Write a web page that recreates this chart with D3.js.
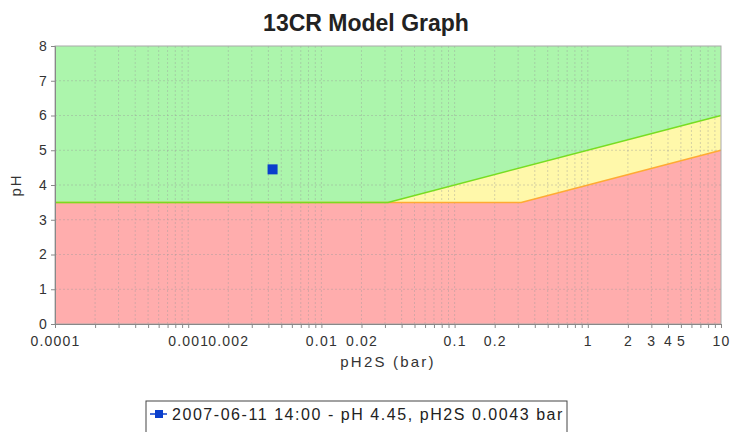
<!DOCTYPE html>
<html>
<head>
<meta charset="utf-8">
<script src="https://cdn.jsdelivr.net/npm/d3@7"></script>
<style>
  body { margin: 0; background: #fff; }
  text { font-family: "Liberation Sans", Arial, sans-serif; }
</style>
</head>
<body>
<div id="graph"></div>
<script>
// boundary lines (pH2S in bar, pH)
var upperX = [0.0001, 0.0316, 10],
    upperPH = [3.5, 3.5, 6];
var lowerX = [0.0001, 0.316, 10],
    lowerPH = [3.5, 3.5, 5];

// measured point
var pointX = [0.0043],
    pointPH = [4.45],
    pointLabel = ["2007-06-11 14:00 - pH 4.45, pH2S 0.0043 bar"];

var xTickLabels = [0.0001, 0.001, 0.002, 0.01, 0.02, 0.1, 0.2, 1, 2, 3, 4, 5, 10];
var yTicks = [0, 1, 2, 3, 4, 5, 6, 7, 8];

var svg = d3.select("#graph").append("svg")
    .attr("width", 732)
    .attr("height", 432),
    margin = {top: 46, right: 11, bottom: 108, left: 55},
    width = 732 - margin.left - margin.right,
    height = 432 - margin.top - margin.bottom,
    g = svg.append("g").attr("transform", "translate(" + margin.left + "," + margin.top + ")");

var x = d3.scaleLog().domain([0.0001, 10]).range([0, width]),
    y = d3.scaleLinear().domain([0, 8]).range([height, 0]);

var upper = upperX.map(function(d, i) { return {x: d, ph: upperPH[i]}; }),
    lower = lowerX.map(function(d, i) { return {x: d, ph: lowerPH[i]}; });

// every log sub-tick
var minor = [];
for (var e = -4; e < 1; e++) {
    for (var m = 1; m < 10; m++) minor.push(m * Math.pow(10, e));
}
minor.push(10);

// title
svg.append("text")
    .attr("x", 366)
    .attr("y", 31)
    .attr("text-anchor", "middle")
    .style("font-size", "23px")
    .style("font-weight", "bold")
    .attr("fill", "#222")
    .text("13CR Model Graph");

// green background
g.append("rect")
    .attr("width", width)
    .attr("height", height)
    .attr("fill", "#acf5ac");

var area = d3.area()
    .x(function(d) { return x(d.x); })
    .y0(height)
    .y1(function(d) { return y(d.ph); });

var line = d3.line()
    .x(function(d) { return x(d.x); })
    .y(function(d) { return y(d.ph); });

g.append("path").attr("d", area(upper)).attr("fill", "#fff8aa");
g.append("path").attr("d", area(lower)).attr("fill", "#ffadad");

// grid
g.append("g")
    .selectAll("line")
    .data(minor.slice(1, -1))
    .enter().append("line")
    .attr("x1", function(d) { return x(d); })
    .attr("x2", function(d) { return x(d); })
    .attr("y1", 0)
    .attr("y2", height)
    .attr("stroke", "#999")
    .attr("stroke-opacity", 0.4)
    .attr("stroke-dasharray", "2,2");

g.append("g")
    .selectAll("line")
    .data(yTicks.slice(1, -1))
    .enter().append("line")
    .attr("x1", 0)
    .attr("x2", width)
    .attr("y1", function(d) { return y(d); })
    .attr("y2", function(d) { return y(d); })
    .attr("stroke", "#999")
    .attr("stroke-opacity", 0.4)
    .attr("stroke-dasharray", "2,2");

// boundaries
g.append("path").attr("d", line(lower)).attr("fill", "none")
    .attr("stroke", "#ffaa33").attr("stroke-width", 1.5);
g.append("path").attr("d", line(upper)).attr("fill", "none")
    .attr("stroke", "#77dd22").attr("stroke-width", 1.5);

// outline
g.append("rect")
    .attr("width", width)
    .attr("height", height)
    .attr("fill", "none")
    .attr("stroke", "#aaa");

// axes
var xAxis = g.append("g")
    .attr("transform", "translate(0," + height + ")")
    .call(d3.axisBottom(x).tickValues(minor).tickSize(4).tickFormat(function(d) {
        return xTickLabels.some(function(v) { return Math.abs(v - d) / v < 1e-6; }) ? d3.format("")(+d.toPrecision(3)) : "";
    }));

var yAxis = g.append("g")
    .call(d3.axisLeft(y).tickValues(yTicks).tickSize(4).tickFormat(d3.format("d")));

[xAxis, yAxis].forEach(function(a) {
    a.select(".domain").attr("stroke", "#888");
    a.selectAll(".tick line").attr("stroke", "#888");
    a.selectAll(".tick text")
        .attr("fill", "#333")
        .style("font-size", "14px")
        .style("letter-spacing", "1.2px")
        .style("font-family", "'Liberation Sans', Arial, sans-serif");
});
xAxis.selectAll(".tick text").attr("dy", "1.05em");
yAxis.selectAll(".tick text").attr("x", -7);

// axis titles
g.append("text")
    .attr("x", width / 2)
    .attr("y", height + 43)
    .attr("text-anchor", "middle")
    .style("font-size", "15px")
    .style("letter-spacing", "2.2px")
    .attr("fill", "#333")
    .text("pH2S (bar)");

g.append("text")
    .attr("transform", "rotate(-90)")
    .attr("x", -height / 2)
    .attr("y", -34)
    .attr("text-anchor", "middle")
    .style("font-size", "15px")
    .style("letter-spacing", "2px")
    .attr("fill", "#333")
    .text("pH");

// point
g.selectAll(".pt")
    .data(pointX)
    .enter().append("rect")
    .attr("class", "pt")
    .attr("x", function(d) { return x(d) - 5; })
    .attr("y", function(d, i) { return y(pointPH[i]) - 5; })
    .attr("width", 10)
    .attr("height", 10)
    .attr("fill", "#0a3fcc");

// legend
var legend = svg.append("g").attr("transform", "translate(146,401)");
legend.append("rect")
    .attr("width", 421)
    .attr("height", 34)
    .attr("fill", "#fff")
    .attr("stroke", "#444");
legend.append("line")
    .attr("x1", 4).attr("x2", 21)
    .attr("y1", 13).attr("y2", 13)
    .attr("stroke", "#0a3fcc").attr("stroke-width", 1.5);
legend.append("rect")
    .attr("x", 9).attr("y", 9)
    .attr("width", 8).attr("height", 8)
    .attr("fill", "#0a3fcc");
legend.append("text")
    .attr("x", 26)
    .attr("y", 19)
    .style("font-size", "16px")
    .style("letter-spacing", "1.55px")
    .attr("fill", "#222")
    .text(pointLabel[0]);
</script>
</body>
</html>
